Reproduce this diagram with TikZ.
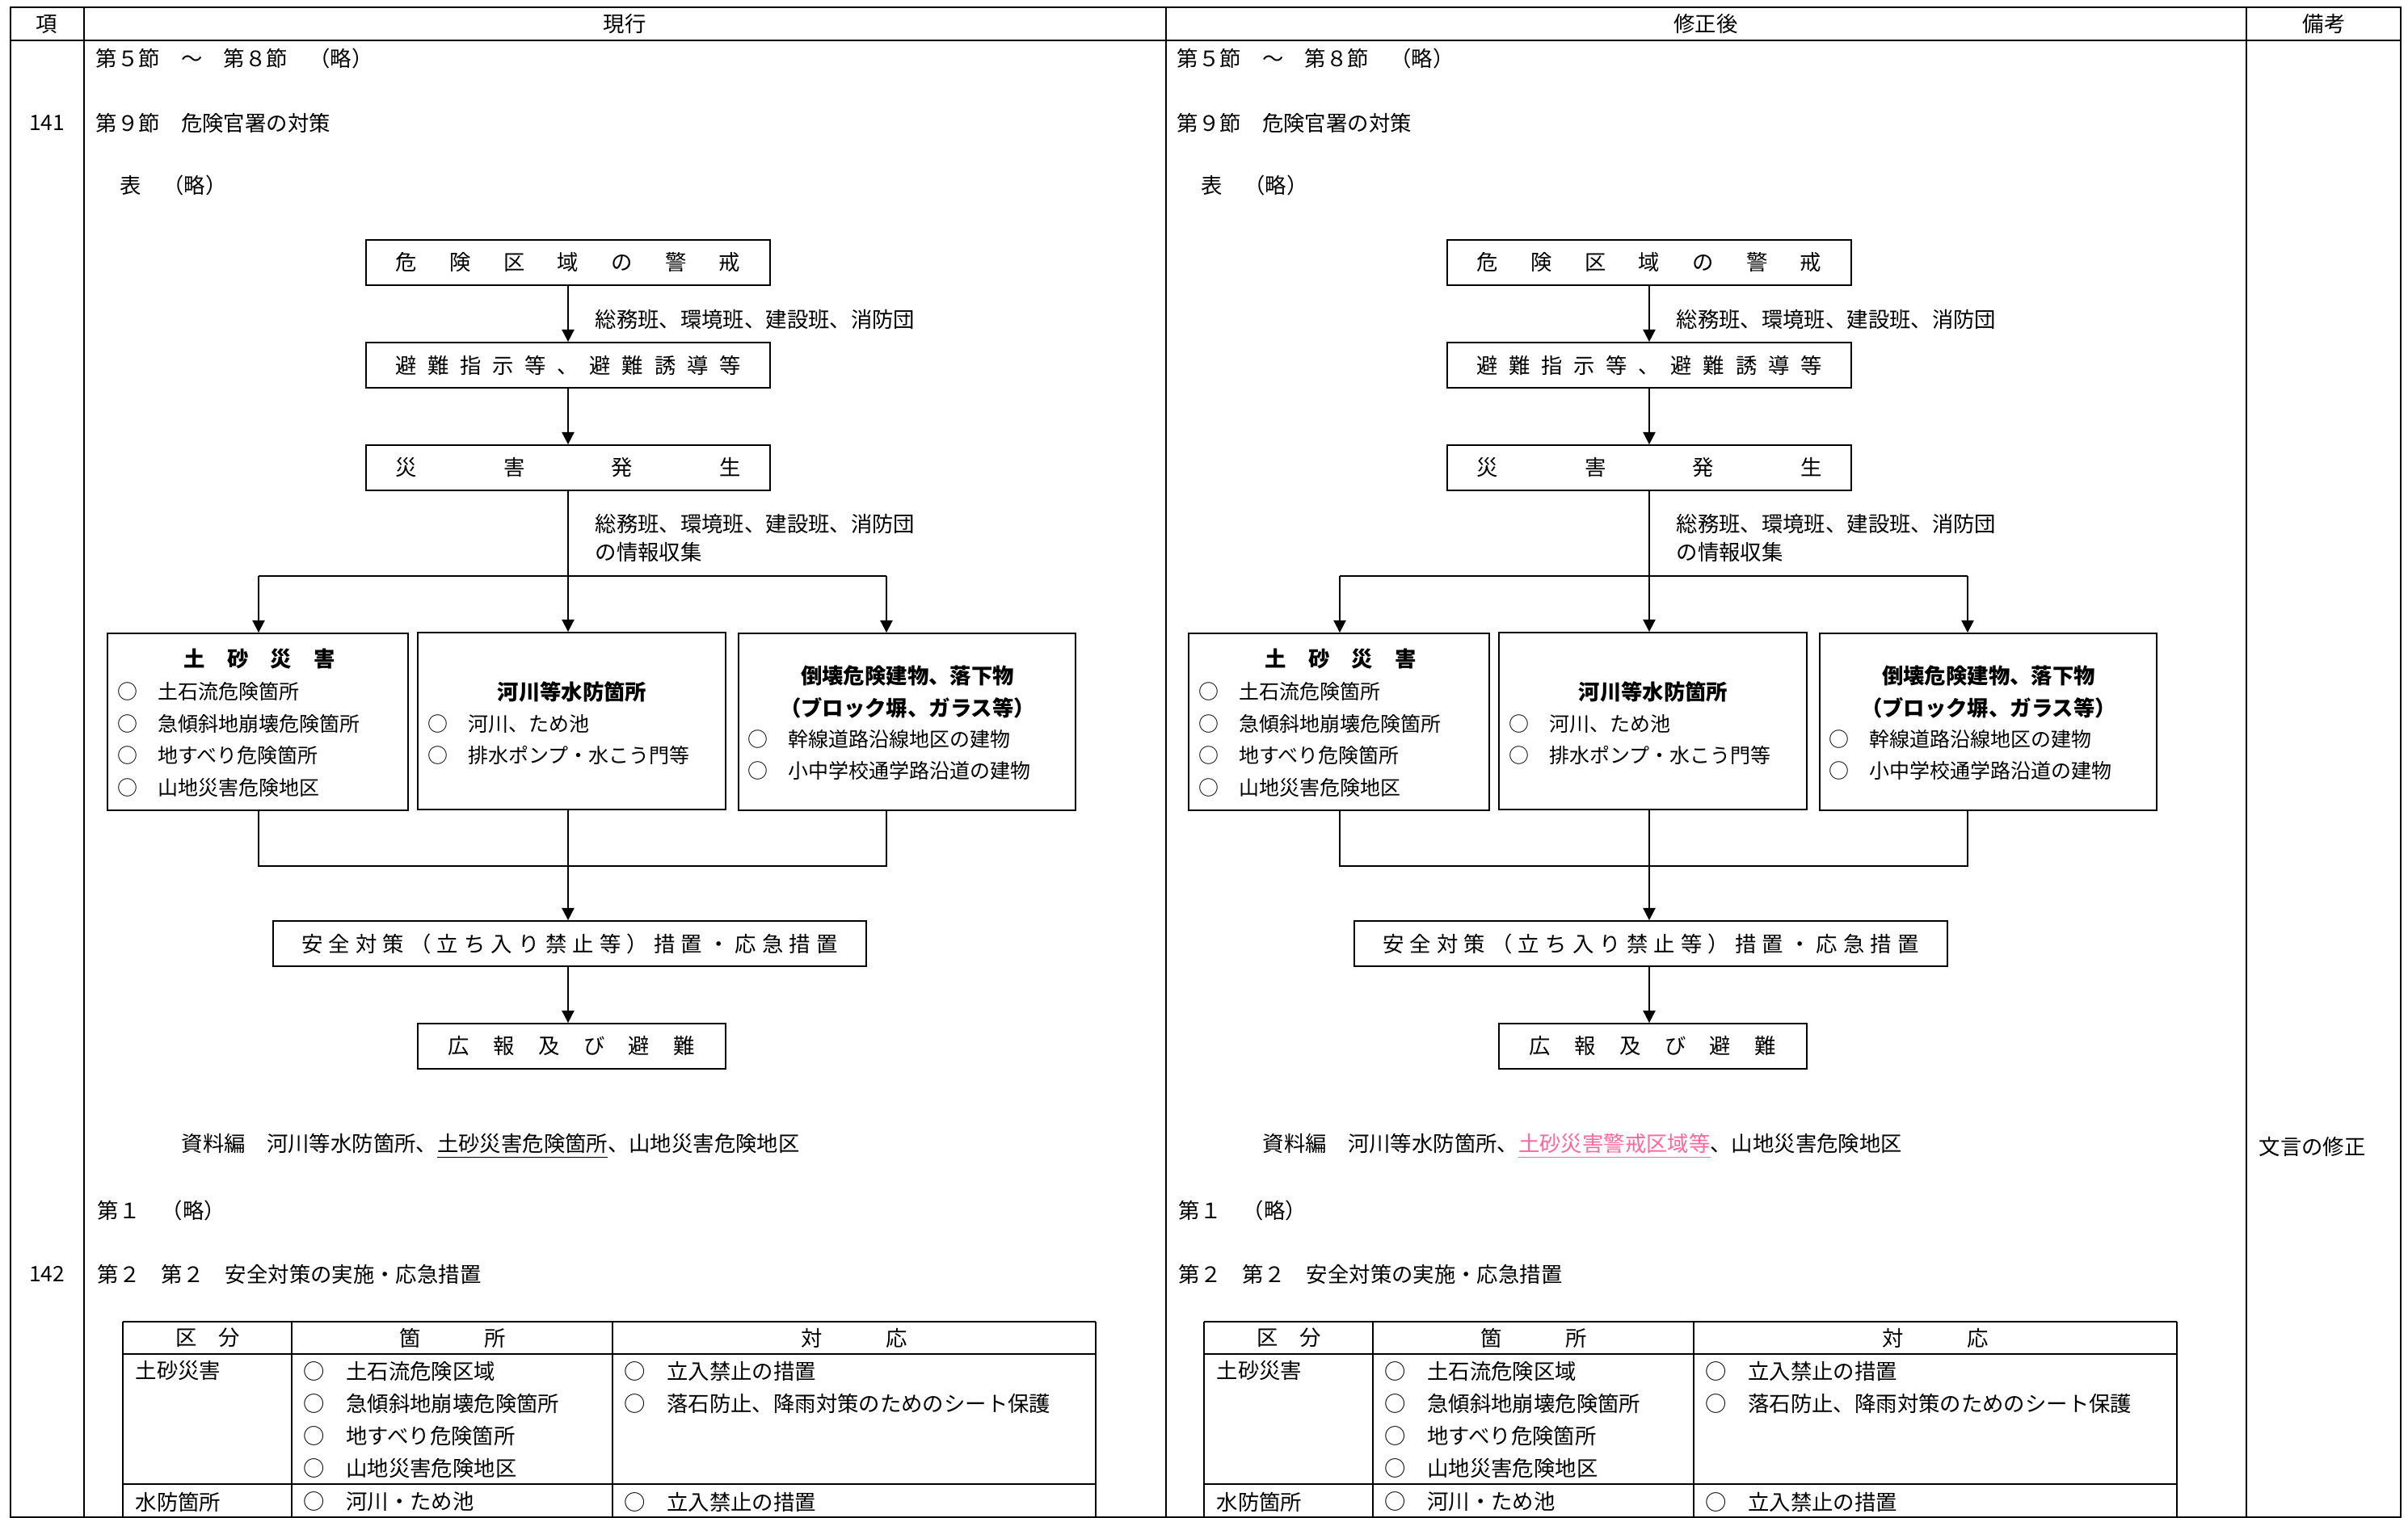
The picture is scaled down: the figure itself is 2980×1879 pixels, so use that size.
\documentclass[tikz,border=0pt]{standalone}
\usepackage{fontspec}
\setmainfont{Noto Sans CJK JP}
\usepackage{tikz}
\usetikzlibrary{arrows.meta,positioning}
\usepackage{xcolor}
\definecolor{shuseipink}{RGB}{255,102,153}
\newcommand{\kfont}{\fontsize{7.5pt}{11.3pt}\selectfont}
\newcommand{\ifont}{\fontsize{7.1pt}{11.3pt}\selectfont}
\tikzstyle{arrow} = [line width=0.55pt,-{Triangle[length=4.3pt,width=4.3pt]}]
\tikzstyle{flowbox} = [rectangle, draw, line width=0.5pt, minimum height=0.56cm, inner sep=0pt, font=\kfont]
\tikzstyle{txt} = [inner sep=0pt, font=\kfont, anchor=west]
\tikzstyle{items} = [inner sep=0pt, font=\ifont, anchor=west, align=left]
\tikzstyle{frame} = [line width=0.6pt]

% one column of the comparison table (current / revised)
\newcommand{\kikencol}[1]{%
    % headings
    \node[txt] (sec5) at (118,72) {第５節　～　第８節　（略）};
    \node[txt] (sec9) at (118,152) {第９節　危険官署の対策};
    \node[txt] (hyo) at (148,229) {表　（略）};

    % flow: warning -> evacuation -> disaster
    \node[flowbox, minimum width=4.99cm] (keikai) at (703,325) {\makebox[4.26cm]{危\hfill 険\hfill 区\hfill 域\hfill の\hfill 警\hfill 戒}};
    \node[flowbox, minimum width=4.99cm] (hinan) at (703,452) {\makebox[4.27cm]{避\hfill 難\hfill 指\hfill 示\hfill 等\hfill 、\hfill 避\hfill 難\hfill 誘\hfill 導\hfill 等}};
    \node[flowbox, minimum width=4.99cm] (hassei) at (703,579) {\makebox[4.27cm]{災\hfill 害\hfill 発\hfill 生}};
    \draw[arrow] (keikai) -- (hinan);
    \draw[arrow] (hinan) -- (hassei);
    \node[txt] (han1) at (736,395) {総務班、環境班、建設班、消防団};
    \node[txt, align=left, font={\fontsize{7.5pt}{10pt}\selectfont}] (han2) at (736,666) {総務班、環境班、建設班、消防団\\の情報収集};

    % three kinds of danger places
    \node[flowbox, minimum width=3.72cm, minimum height=2.19cm] (dosha) at (319,893.5) {};
    \node[flowbox, minimum width=3.81cm, minimum height=2.19cm] (kasen) at (707.5,892.5) {};
    \node[flowbox, minimum width=4.17cm, minimum height=2.19cm] (tokai) at (1122.5,893.5) {};
    \node[txt, anchor=center, font=\kfont\bfseries] (doshaT) at (321,816) {\makebox[1.87cm]{土\hfill 砂\hfill 災\hfill 害}};
    \node[items] (doshaL) at (145,915.5) {○　土石流危険箇所\\○　急傾斜地崩壊危険箇所\\○　地すべり危険箇所\\○　山地災害危険地区};
    \node[txt, anchor=center, font=\kfont\bfseries] (kasenT) at (708,856) {河川等水防箇所};
    \node[items] (kasenL) at (529,915.5) {○　河川、ため池\\○　排水ポンプ・水こう門等};
    \node[txt, anchor=center, align=center, font=\kfont\bfseries] (tokaiT) at (1123,856.5) {倒壊危険建物、落下物\\（ブロック塀、ガラス等）};
    \node[items] (tokaiL) at (925,934.5) {○　幹線道路沿線地区の建物\\○　小中学校通学路沿道の建物};

    % branch out
    \coordinate (jl) at (320,713);
    \coordinate (jc) at (703,713);
    \coordinate (jr) at (1097,713);
    \draw (hassei) -- (jc);
    \draw (jl) -- (jr);
    \draw[arrow] (jl) -- (jl |- dosha.north);
    \draw[arrow] (jc) -- (jc |- kasen.north);
    \draw[arrow] (jr) -- (jr |- tokai.north);

    % join and measures
    \coordinate (kl) at (320,1072);
    \coordinate (kc) at (703,1072);
    \coordinate (kr) at (1097,1072);
    \node[flowbox, minimum width=7.34cm] (anzen) at (705,1168) {\makebox[6.63cm]{安\hfill 全\hfill 対\hfill 策\hfill （\hfill 立\hfill ち\hfill 入\hfill り\hfill 禁\hfill 止\hfill 等\hfill ）\hfill 措\hfill 置\hfill ・\hfill 応\hfill 急\hfill 措\hfill 置}};
    \node[flowbox, minimum width=3.81cm] (koho) at (707.5,1295) {\makebox[3.05cm]{広\hfill 報\hfill 及\hfill び\hfill 避\hfill 難}};
    \draw (kl |- dosha.south) -- (kl) -- (kr) -- (kr |- tokai.south);
    \draw[arrow] (kc |- kasen.south) -- (kc |- anzen.north);
    \draw[arrow] (kc |- anzen.south) -- (kc |- koho.north);

    % references
    \node[txt] (shiryo) at (224,1419) {資料編　河川等水防箇所、#1、山地災害危険地区};
    \node[txt] (dai1) at (120,1498) {第１　（略）};
    \node[txt] (dai2) at (120,1577) {第２　第２　安全対策の実施・応急措置};

    % small table
    \draw[frame] (152,1636) -- (1356,1636) (152,1676) -- (1356,1676) (152,1837) -- (1356,1837)
        (152,1636) -- (152,1878) (361,1636) -- (361,1878) (758,1636) -- (758,1878) (1356,1636) -- (1356,1878);
    \node[txt, anchor=center] (kubun) at (257,1656) {区　分};
    \node[txt, anchor=center] (kasho) at (560,1656) {箇　　　所};
    \node[txt, anchor=center] (taio) at (1057,1656) {対　　　応};
    \node[txt] (r1a) at (167,1697) {土砂災害};
    \node[txt, align=left] (r1b) at (375,1757.5) {○　土石流危険区域\\○　急傾斜地崩壊危険箇所\\○　地すべり危険箇所\\○　山地災害危険地区};
    \node[txt, align=left] (r1c) at (772,1717.5) {○　立入禁止の措置\\○　落石防止、降雨対策のためのシート保護};
    \node[txt] (r2a) at (167,1859) {水防箇所};
    \node[txt] (r2b) at (375,1859) {○　河川・ため池};
    \node[txt] (r2c) at (772,1859) {○　立入禁止の措置};
}

\begin{document}
\begin{tikzpicture}[x=0.01cm, y=-0.01cm]
    \useasboundingbox (0,0) rectangle (2980,1879);

    % outer frame
    \draw[frame] (13,9) rectangle (2971,1878);
    \draw[frame] (13,50) -- (2971,50) (104,9) -- (104,1878) (1443,9) -- (1443,1878) (2780,9) -- (2780,1878);
    \node[txt, anchor=center] (kou) at (58,30) {項};
    \node[txt, anchor=center] (genko) at (773,30) {現行};
    \node[txt, anchor=center] (shusei) at (2111,30) {修正後};
    \node[txt, anchor=center] (biko) at (2876,30) {備考};
    \node[txt, anchor=center] (p141) at (58,152) {141};
    \node[txt, anchor=center] (p142) at (58,1577) {142};
    \node[txt] (mongon) at (2795,1419) {文言の修正};

    % current
    \begin{scope}[name prefix=L-]
        \kikencol{\underline{土砂災害危険箇所}}
    \end{scope}

    % revised
    \begin{scope}[shift={(1338,0)}, name prefix=R-]
        \kikencol{\textcolor{shuseipink}{\underline{土砂災害警戒区域等}}}
    \end{scope}
\end{tikzpicture}
\end{document}
